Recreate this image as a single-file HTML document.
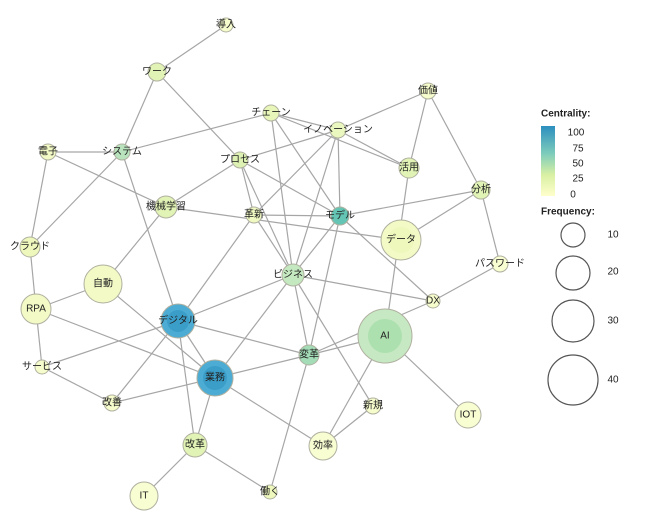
<!DOCTYPE html>
<html><head><meta charset="utf-8"><style>
html,body{margin:0;padding:0;background:#fff;}
svg{display:block;font-family:"Liberation Sans","Noto Sans CJK JP",sans-serif;}
text{font-size:10px;fill:#222;text-anchor:middle;dominant-baseline:central;}
.e line{stroke:#a6a6a6;stroke-width:1.2;}
.n circle{stroke:#b0b0a0;stroke-width:1;}
.lg circle{fill:none;stroke:#555;stroke-width:1.2;}
</style></head><body>
<svg width="650" height="516" viewBox="0 0 650 516" xmlns="http://www.w3.org/2000/svg">
<defs><linearGradient id="g" x1="0" y1="1" x2="0" y2="0">
<stop offset="0" stop-color="#ffffcc"/><stop offset="0.3" stop-color="#d9f0a3"/><stop offset="0.6" stop-color="#7fcdbb"/><stop offset="1" stop-color="#2c8fbf"/></linearGradient></defs>
<g class="e">
<line x1="226" y1="25" x2="157" y2="72"/>
<line x1="157" y1="72" x2="122" y2="152"/>
<line x1="157" y1="72" x2="240" y2="160"/>
<line x1="271" y1="113" x2="122" y2="152"/>
<line x1="271" y1="113" x2="338" y2="130"/>
<line x1="271" y1="113" x2="293" y2="275"/>
<line x1="271" y1="113" x2="340" y2="216"/>
<line x1="338" y1="130" x2="428" y2="91"/>
<line x1="338" y1="130" x2="240" y2="160"/>
<line x1="338" y1="130" x2="409" y2="168"/>
<line x1="271" y1="113" x2="409" y2="168"/>
<line x1="338" y1="130" x2="254" y2="215"/>
<line x1="338" y1="130" x2="293" y2="275"/>
<line x1="338" y1="130" x2="340" y2="216"/>
<line x1="428" y1="91" x2="409" y2="168"/>
<line x1="428" y1="91" x2="481" y2="190"/>
<line x1="48" y1="152" x2="122" y2="152"/>
<line x1="48" y1="152" x2="30" y2="247"/>
<line x1="48" y1="152" x2="166" y2="207"/>
<line x1="122" y1="152" x2="30" y2="247"/>
<line x1="122" y1="152" x2="178" y2="321"/>
<line x1="240" y1="160" x2="166" y2="207"/>
<line x1="240" y1="160" x2="254" y2="215"/>
<line x1="240" y1="160" x2="293" y2="275"/>
<line x1="240" y1="160" x2="340" y2="216"/>
<line x1="409" y1="168" x2="385" y2="336"/>
<line x1="481" y1="190" x2="340" y2="216"/>
<line x1="481" y1="190" x2="401" y2="240"/>
<line x1="481" y1="190" x2="500" y2="264"/>
<line x1="166" y1="207" x2="401" y2="240"/>
<line x1="254" y1="215" x2="340" y2="216"/>
<line x1="166" y1="207" x2="103" y2="284"/>
<line x1="254" y1="215" x2="178" y2="321"/>
<line x1="254" y1="215" x2="293" y2="275"/>
<line x1="340" y1="216" x2="293" y2="275"/>
<line x1="340" y1="216" x2="309" y2="355"/>
<line x1="340" y1="216" x2="433" y2="301"/>
<line x1="293" y1="275" x2="433" y2="301"/>
<line x1="293" y1="275" x2="178" y2="321"/>
<line x1="293" y1="275" x2="215" y2="378"/>
<line x1="293" y1="275" x2="309" y2="355"/>
<line x1="293" y1="275" x2="373" y2="406"/>
<line x1="433" y1="301" x2="500" y2="264"/>
<line x1="433" y1="301" x2="309" y2="355"/>
<line x1="385" y1="336" x2="309" y2="355"/>
<line x1="385" y1="336" x2="323" y2="446"/>
<line x1="385" y1="336" x2="468" y2="415"/>
<line x1="178" y1="321" x2="215" y2="378"/>
<line x1="178" y1="321" x2="309" y2="355"/>
<line x1="178" y1="321" x2="42" y2="367"/>
<line x1="178" y1="321" x2="112" y2="403"/>
<line x1="178" y1="321" x2="195" y2="445"/>
<line x1="103" y1="284" x2="36" y2="309"/>
<line x1="103" y1="284" x2="215" y2="378"/>
<line x1="36" y1="309" x2="30" y2="247"/>
<line x1="36" y1="309" x2="42" y2="367"/>
<line x1="36" y1="309" x2="215" y2="378"/>
<line x1="42" y1="367" x2="112" y2="403"/>
<line x1="112" y1="403" x2="215" y2="378"/>
<line x1="215" y1="378" x2="309" y2="355"/>
<line x1="215" y1="378" x2="195" y2="445"/>
<line x1="215" y1="378" x2="323" y2="446"/>
<line x1="195" y1="445" x2="144" y2="496"/>
<line x1="195" y1="445" x2="270" y2="492"/>
<line x1="309" y1="355" x2="270" y2="492"/>
<line x1="323" y1="446" x2="373" y2="406"/>
</g>
<g class="n">
<circle cx="226" cy="25" r="7" fill="#f7fccc"/><text x="226" y="25">導入</text>
<circle cx="157" cy="72" r="9" fill="#e1f3b5"/><text x="157" y="72">ワーク</text>
<circle cx="271" cy="113" r="8" fill="#e8f6ba"/><text x="271" y="113">チェーン</text>
<circle cx="338" cy="130" r="8" fill="#eaf7be"/><text x="338" y="130">イノベーション</text>
<circle cx="428" cy="91" r="8" fill="#f7fccc"/><text x="428" y="91">価値</text>
<circle cx="48" cy="152" r="8" fill="#f3fac6"/><text x="48" y="152">電子</text>
<circle cx="122" cy="152" r="8" fill="#b8e3bd"/><text x="122" y="152">システム</text>
<circle cx="240" cy="160" r="8" fill="#dcf1b2"/><text x="240" y="160">プロセス</text>
<circle cx="409" cy="168" r="10" fill="#e1f3b5"/><text x="409" y="168">活用</text>
<circle cx="481" cy="190" r="9" fill="#e1f3b5"/><text x="481" y="190">分析</text>
<circle cx="166" cy="207" r="11" fill="#e1f3b5"/><text x="166" y="207">機械学習</text>
<circle cx="254" cy="215" r="8" fill="#f1f9c3"/><text x="254" y="215">革新</text>
<circle cx="340" cy="216" r="9" fill="#64c5b4"/><text x="340" y="216">モデル</text>
<circle cx="401" cy="240" r="20" fill="#f3fac6"/><circle cx="401" cy="240" r="13" fill="#eef8bd" style="stroke:none"/><text x="401" y="240">データ</text>
<circle cx="30" cy="247" r="10" fill="#eef8bd"/><text x="30" y="247">クラウド</text>
<circle cx="500" cy="264" r="8" fill="#f9fdd2"/><text x="500" y="264">パスワード</text>
<circle cx="293" cy="275" r="11" fill="#c4e8bf"/><text x="293" y="275">ビジネス</text>
<circle cx="103" cy="284" r="19" fill="#f3fac6"/><text x="103" y="284">自動</text>
<circle cx="433" cy="301" r="7" fill="#f7fccc"/><text x="433" y="301">DX</text>
<circle cx="36" cy="309" r="15" fill="#f3fac6"/><text x="36" y="309">RPA</text>
<circle cx="178" cy="321" r="17" fill="#4dacd3"/><circle cx="178" cy="321" r="11" fill="#3a9ec9" style="stroke:none"/><text x="178" y="321">デジタル</text>
<circle cx="385" cy="336" r="27" fill="#c6e9c3"/><circle cx="385" cy="336" r="17" fill="#ade0af" style="stroke:none"/><text x="385" y="336">AI</text>
<circle cx="309" cy="355" r="10" fill="#a3dcb6"/><text x="309" y="355">変革</text>
<circle cx="42" cy="367" r="7" fill="#f7fccc"/><text x="42" y="367">サービス</text>
<circle cx="215" cy="378" r="18" fill="#4dacd3"/><circle cx="215" cy="378" r="12" fill="#3a9ec9" style="stroke:none"/><text x="215" y="378">業務</text>
<circle cx="112" cy="403" r="8" fill="#f7fccc"/><text x="112" y="403">改善</text>
<circle cx="373" cy="406" r="8" fill="#f7fccc"/><text x="373" y="406">新規</text>
<circle cx="468" cy="415" r="13" fill="#f9fdd2"/><text x="468" y="415">IOT</text>
<circle cx="195" cy="445" r="12" fill="#e1f3b5"/><text x="195" y="445">改革</text>
<circle cx="323" cy="446" r="14" fill="#f9fdd2"/><text x="323" y="446">効率</text>
<circle cx="144" cy="496" r="14" fill="#f9fdd2"/><text x="144" y="496">IT</text>
<circle cx="270" cy="492" r="7" fill="#eef8bd"/><text x="270" y="492">働く</text>
</g>
<g class="lg">
<text x="541" y="114" style="font-weight:bold;text-anchor:start">Centrality:</text>
<rect x="541" y="126" width="14" height="70" fill="url(#g)"/>
<text x="576" y="133">100</text>
<text x="578" y="149">75</text>
<text x="578" y="164">50</text>
<text x="578" y="179">25</text>
<text x="573" y="195">0</text>
<text x="541" y="212" style="font-weight:bold;text-anchor:start">Frequency:</text>
<circle cx="573" cy="235" r="12"/><text x="613" y="235">10</text>
<circle cx="573" cy="273" r="17"/><text x="613" y="272">20</text>
<circle cx="573" cy="321" r="21"/><text x="613" y="321">30</text>
<circle cx="573" cy="380" r="25"/><text x="613" y="380">40</text>
</g>
</svg>
</body></html>
